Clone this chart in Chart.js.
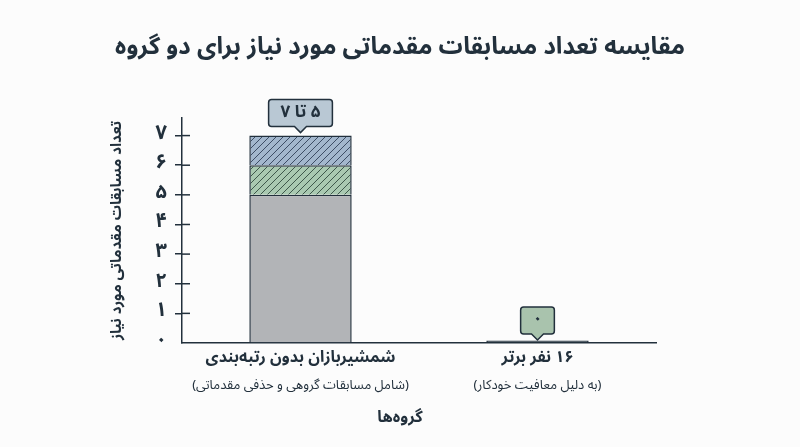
<!DOCTYPE html>
<html lang="fa">
<head>
<meta charset="utf-8">
<script src="https://cdn.jsdelivr.net/npm/chart.js@4.4.1/dist/chart.umd.min.js"></script>
<style>
  html, body { margin: 0; padding: 0; background: #fcfcfc; }
  #wrap { width: 800px; height: 447px; }
</style>
</head>
<body>
<div id="wrap"><canvas id="chart" dir="rtl" width="800" height="447"></canvas></div>
<script>
const groups = ['شمشیربازان بدون رتبه‌بندی', '۱۶ نفر برتر']
const groupNotes = ['(شامل مسابقات گروهی و حذفی مقدماتی)', '(به دلیل معافیت خودکار)']
const baseMatches = [5, 0]
const extraMatchesA = [1, null]
const extraMatchesB = [1, null]
const calloutLabels = ['۵ تا ۷', '۰']
const calloutTotals = [7, 0]
const yTicks = [0, 1, 2, 3, 4, 5, 6, 7]
const yTickLabels = ['۰', '۱', '۲', '۳', '۴', '۵', '۶', '۷']

const FONT = "'Noto Sans Arabic', 'DejaVu Sans', sans-serif"
const DARK = '#22303c'
const calloutColors = ['#b9c8d4', '#a9c3ad']

const chart = document.querySelector('#chart')
const ctx = chart.getContext('2d')

function hatch(bg, line) {
    const s = 7
    const c = document.createElement('canvas')
    c.width = s
    c.height = s
    const g = c.getContext('2d')
    g.fillStyle = bg
    g.fillRect(0, 0, s, s)
    g.strokeStyle = line
    g.lineWidth = 1
    g.beginPath()
    g.moveTo(0, s); g.lineTo(s, 0)
    g.moveTo(-1, 1); g.lineTo(1, -1)
    g.moveTo(s - 1, s + 1); g.lineTo(s + 1, s - 1)
    g.stroke()
    return ctx.createPattern(c, 'repeat')
}

// tick marks cross the y axis
const tickCross = {
    id: 'tickCross',
    afterDraw(ch) {
        const y = ch.scales.y
        const c = ch.ctx
        c.save()
        c.strokeStyle = DARK
        c.lineWidth = 1.5
        y.ticks.forEach(t => {
            if (t.value === 0) return
            const py = y.getPixelForValue(t.value)
            c.beginPath()
            c.moveTo(y.right, py)
            c.lineTo(y.right + 8, py)
            c.stroke()
        })
        c.restore()
    }
}

// little speech boxes above the bars
const callouts = {
    id: 'callouts',
    afterDatasetsDraw(ch) {
        const { x, y } = ch.scales
        const c = ch.ctx
        c.save()
        c.font = 'bold 17px ' + FONT
        calloutLabels.forEach((txt, i) => {
            const cx = x.getPixelForValue(i)
            const tip = y.getPixelForValue(calloutTotals[i]) - 3
            const w = c.measureText(txt).width + 24
            const h = 27
            const bottom = tip - 6
            const top = bottom - h
            const l = cx - w / 2, r = cx + w / 2, rad = 3
            c.beginPath()
            c.moveTo(l + rad, top)
            c.lineTo(r - rad, top)
            c.quadraticCurveTo(r, top, r, top + rad)
            c.lineTo(r, bottom - rad)
            c.quadraticCurveTo(r, bottom, r - rad, bottom)
            c.lineTo(cx + 6, bottom)
            c.lineTo(cx, tip)
            c.lineTo(cx - 6, bottom)
            c.lineTo(l + rad, bottom)
            c.quadraticCurveTo(l, bottom, l, bottom - rad)
            c.lineTo(l, top + rad)
            c.quadraticCurveTo(l, top, l + rad, top)
            c.closePath()
            c.fillStyle = calloutColors[i]
            c.fill()
            c.strokeStyle = DARK
            c.lineWidth = 1.5
            c.stroke()
            c.fillStyle = DARK
            c.textAlign = 'center'
            c.textBaseline = 'middle'
            c.fillText(txt, cx, top + h / 2 + 1)
        })
        c.restore()
    }
}

new Chart(chart, {
    type: 'bar',
    data: {
        labels: groups,
        datasets: [
            {
                label: 'base',
                data: baseMatches,
                backgroundColor: c => c.raw === 0 ? DARK : '#b2b4b7',
                borderColor: DARK,
                borderWidth: 1.5,
                minBarLength: 2.5
            },
            {
                label: 'extra A',
                data: extraMatchesA,
                backgroundColor: hatch('#a9c9b1', 'rgba(35,60,50,0.8)'),
                borderColor: DARK,
                borderWidth: 1.5
            },
            {
                label: 'extra B',
                data: extraMatchesB,
                backgroundColor: hatch('#a3b7cd', 'rgba(35,50,75,0.8)'),
                borderColor: DARK,
                borderWidth: 1.5
            }
        ]
    },
    options: {
        responsive: false,
        animation: false,
        categoryPercentage: 0.9,
        barPercentage: 0.48,
        layout: { padding: 0 },
        plugins: {
            legend: { display: false },
            tooltip: { enabled: false },
            title: {
                display: true,
                text: 'مقایسه تعداد مسابقات مقدماتی مورد نیاز برای دو گروه',
                color: DARK,
                font: { family: FONT, size: 24, weight: 'bold' },
                padding: { top: 36, bottom: 53 }
            },
            subtitle: {
                display: true,
                position: 'bottom',
                text: 'گروه‌ها',
                color: DARK,
                font: { family: FONT, size: 16, weight: 'bold' },
                padding: { top: 12, bottom: 18 }
            }
        },
        scales: {
            x: {
                stacked: true,
                grid: { display: false, drawTicks: false },
                border: { color: DARK, width: 1.5 },
                ticks: {
                    color: DARK,
                    font: { family: FONT, size: 16, weight: 'bold' },
                    padding: 7,
                    maxRotation: 0,
                    autoSkip: false
                }
            },
            x2: {
                type: 'category',
                labels: groupNotes,
                position: 'bottom',
                offset: true,
                weight: 1,
                grid: { display: false, drawTicks: false },
                border: { display: false },
                ticks: {
                    color: DARK,
                    font: { family: FONT, size: 13 },
                    padding: 3,
                    maxRotation: 0,
                    autoSkip: false
                }
            },
            y: {
                stacked: true,
                min: 0,
                max: 7.6,
                afterBuildTicks: s => { s.ticks = yTicks.map(v => ({ value: v })) },
                afterFit: s => { s.width = 182 },
                grid: {
                    drawOnChartArea: false,
                    tickLength: 7,
                    lineWidth: 1.5,
                    color: c => (c.tick && c.tick.value === 0) ? 'rgba(0,0,0,0)' : DARK
                },
                border: { color: DARK, width: 1.5 },
                ticks: {
                    color: DARK,
                    font: { family: FONT, size: 20, weight: 'bold' },
                    padding: 8,
                    callback: (v, i) => yTickLabels[i]
                },
                title: {
                    display: true,
                    text: 'تعداد مسابقات مقدماتی مورد نیاز',
                    color: DARK,
                    font: { family: FONT, size: 15, weight: 'bold' },
                    padding: { top: 110, bottom: 20 }
                }
            },
            // empty strip on the right, keeps the plot where it sits in the picture
            yR: {
                position: 'right',
                grid: { display: false, drawTicks: false },
                border: { display: false },
                ticks: { display: false },
                afterFit: s => { s.width = 144 }
            }
        }
    },
    plugins: [tickCross, callouts]
})
</script>
</body>
</html>
